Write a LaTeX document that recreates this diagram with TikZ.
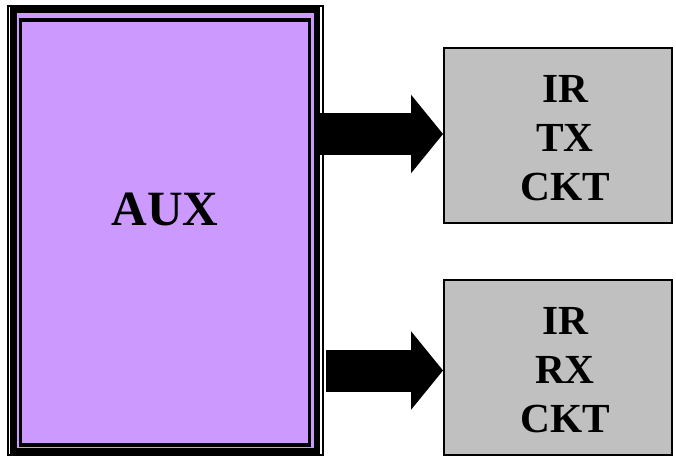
\documentclass[tikz,border=0pt]{standalone}
\usepackage{fontspec}
\setmainfont{Liberation Serif}
\usetikzlibrary{arrows.meta}

\definecolor{auxpurple}{RGB}{204,153,255}
\definecolor{ckgrey}{RGB}{192,192,192}

\tikzset{
  ckbox/.style={draw, line width=1.5, fill=ckgrey, minimum width=171pt, minimum height=131pt, inner sep=0pt},
  cklabel/.style={font=\bfseries\fontsize{31}{37}\selectfont, align=center, inner sep=0pt},
  blockarrow/.style={line width=31.5pt, -{Triangle[length=24pt, width=59pt, line width=0pt]}}
}

\begin{document}
\begin{tikzpicture}[x=0.75pt,y=0.75pt,yscale=-1,xscale=1]
      \useasboundingbox (0,0) rectangle (676,458);

      %AUX frame, outer thin line
      \draw [line width=1.5] (8,6) rectangle (322.5,454.5) ;
      %AUX frame, thick border and fill
      \draw [line width=5, fill=auxpurple] (13.5,10) rectangle (317,451.5) ;
      %AUX frame, inner thin line
      \draw [line width=2.5] (20.5,20) rectangle (309.5,445) ;
      % Text Node
      \node (aux) at (165,209) [font=\bfseries\fontsize{37}{44}\selectfont, inner sep=0pt] {AUX};

      %Boxes
      \node (tx) at (558,135.5) [ckbox] {};
      \node (rx) at (558,367.5) [ckbox] {};
      % Text Node
      \node (txtext) at (565,138) [cklabel] {IR\\TX\\CKT};
      % Text Node
      \node (rxtext) at (565,370) [cklabel] {IR\\RX\\CKT};

      %Arrows
      \coordinate (txstart) at (320,134);
      \coordinate (rxstart) at (326,370.5);
      \draw [blockarrow] (txstart) -- (txstart -| tx.west) ;
      \draw [blockarrow] (rxstart) -- (rxstart -| rx.west) ;
\end{tikzpicture}
\end{document}
